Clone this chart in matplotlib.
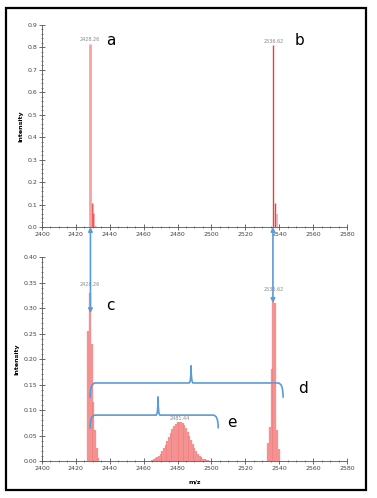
import matplotlib
matplotlib.use("Agg")
import matplotlib.pyplot as plt
from matplotlib.patches import Rectangle, ConnectionPatch, PathPatch
from matplotlib.path import Path
from matplotlib.ticker import MultipleLocator, FormatStrFormatter

# top spectrum (a / b)
top_mz_a = [2428.26, 2429.26, 2430.26, 2431.26]
top_int_a = [0.815, 0.105, 0.062, 0.005]
top_mz_b = [2536.62, 2537.62, 2538.62]
top_int_b = [0.81, 0.105, 0.06]

# bottom spectrum (c / d / e)
bot_mz_c = [2427.26, 2428.26, 2429.26, 2430.26, 2431.26, 2432.26, 2433.26]
bot_int_c = [0.255, 0.33, 0.23, 0.115, 0.06, 0.025, 0.006]
bot_mz_e = list(range(2465, 2499))
bot_int_e = [0.002, 0.003, 0.005, 0.007, 0.010, 0.014, 0.019, 0.025, 0.032, 0.039,
             0.047, 0.055, 0.062, 0.068, 0.073, 0.076, 0.077, 0.077, 0.074, 0.070,
             0.064, 0.057, 0.049, 0.041, 0.033, 0.026, 0.020, 0.014, 0.010, 0.007,
             0.004, 0.003, 0.002, 0.001]
bot_mz_d = [2533.62, 2534.62, 2535.62, 2536.62, 2537.62, 2538.62, 2539.62]
bot_int_d = [0.035, 0.067, 0.18, 0.32, 0.31, 0.06, 0.024]

pink = "#f6a3a3"
red = "#f03c3c"
blue = "#5b9bd5"
grey = "#555555"

fig = plt.figure(figsize=(3.77, 4.98), dpi=100)
ax1 = fig.add_axes([0.1114, 0.5442, 0.809, 0.4056])
ax2 = fig.add_axes([0.1114, 0.0743, 0.809, 0.4096])


def style(ax, ymax, major, minor, fmt):
    ax.set_xlim(2400, 2580)
    ax.set_ylim(0, ymax)
    ax.xaxis.set_major_locator(MultipleLocator(20))
    ax.xaxis.set_minor_locator(MultipleLocator(5))
    ax.yaxis.set_major_locator(MultipleLocator(major))
    ax.yaxis.set_minor_locator(MultipleLocator(minor))
    ax.yaxis.set_major_formatter(FormatStrFormatter(fmt))
    for s in ["top", "right"]:
        ax.spines[s].set_visible(False)
    for s in ["left", "bottom"]:
        ax.spines[s].set_color(grey)
        ax.spines[s].set_linewidth(0.6)
    ax.tick_params(which="major", direction="inout", length=4, width=0.6,
                   color=grey, labelsize=4.5, labelcolor="#444444", pad=1.5)
    ax.tick_params(which="minor", direction="inout", length=2, width=0.5, color=grey)
    ax.set_ylabel("Intensity", fontsize=4.5, fontweight="bold", labelpad=3)


style(ax1, 0.9, 0.1, 0.02, "%.1f")
style(ax2, 0.4, 0.05, 0.01, "%.2f")

# top peaks
ax1.vlines(top_mz_a, 0, top_int_a, color=pink, lw=2.0)
ax1.vlines(top_mz_a[1:], 0, top_int_a[1:], color=red, lw=0.5)
ax1.vlines(top_mz_b[:2], 0, top_int_b[:2], color=red, lw=1.0)
ax1.vlines(top_mz_b[2:], 0, top_int_b[2:], color=pink, lw=1.2)
ax1.text(top_mz_a[0], top_int_a[0] + 0.012, "2428.26", fontsize=3.5, color="#888888", ha="center")
ax1.text(top_mz_b[0], top_int_b[0] + 0.012, "2536.62", fontsize=3.5, color="#888888", ha="center")
ax1.text(2438, 0.81, "a", fontsize=11)
ax1.text(2549, 0.81, "b", fontsize=11)

# bottom peaks
for mz, it in [(bot_mz_c, bot_int_c), (bot_mz_e, bot_int_e), (bot_mz_d, bot_int_d)]:
    ax2.vlines(mz, 0, it, color=pink, lw=1.7)
    ax2.vlines(mz, 0, it, color=red, lw=0.35, alpha=0.7)
ax2.text(2428.26, 0.343, "2428.26", fontsize=3.5, color="#888888", ha="center")
ax2.text(2536.62, 0.333, "2536.62", fontsize=3.5, color="#888888", ha="center")
ax2.text(2481.44, 0.081, "2481.44", fontsize=3.5, color="#888888", ha="center")
ax2.text(2438, 0.297, "c", fontsize=11)
ax2.text(2551, 0.133, "d", fontsize=11)
ax2.text(2509, 0.067, "e", fontsize=11)
ax2.set_xlabel("m/z", fontsize=4.5, fontweight="bold", labelpad=6)


def brace(ax, x0, x1, xm, y, drop, rise):
    r = 3.0   # corner radius in m/z units
    b = 1.2   # half width of the middle cusp
    verts = [(x0, y - drop), (x0, y), (x0 + r, y),
             (xm - b, y), (xm, y), (xm, y + rise),
             (xm, y + rise), (xm, y), (xm + b, y),
             (x1 - r, y), (x1, y), (x1, y - drop)]
    codes = [Path.MOVETO, Path.CURVE3, Path.CURVE3,
             Path.LINETO, Path.CURVE3, Path.CURVE3,
             Path.MOVETO, Path.CURVE3, Path.CURVE3,
             Path.LINETO, Path.CURVE3, Path.CURVE3]
    ax.add_patch(PathPatch(Path(verts, codes), fill=False, ec=blue, lw=1.2,
                           clip_on=False, zorder=5, capstyle="round"))


brace(ax2, 2428.4, 2542.3, 2488.0, 0.153, 0.028, 0.033)
brace(ax2, 2428.4, 2504.0, 2468.5, 0.090, 0.025, 0.035)

# arrows linking the two spectra
for x_top, y_bot in [(2428.6, 0.29), (2536.3, 0.31)]:
    con = ConnectionPatch(xyA=(x_top, 0.0), coordsA=ax1.transData,
                          xyB=(x_top, y_bot), coordsB=ax2.transData,
                          arrowstyle="<|-|>", color=blue, lw=1.2,
                          mutation_scale=6, shrinkA=0, shrinkB=0, zorder=6)
    fig.add_artist(con)

# outer frame
fig.patches.append(Rectangle((6 / 377, 8 / 498), 360 / 377, 482 / 498,
                             transform=fig.transFigure, fill=False,
                             ec="black", lw=1.6))

fig.savefig("out.png", dpi=100)
